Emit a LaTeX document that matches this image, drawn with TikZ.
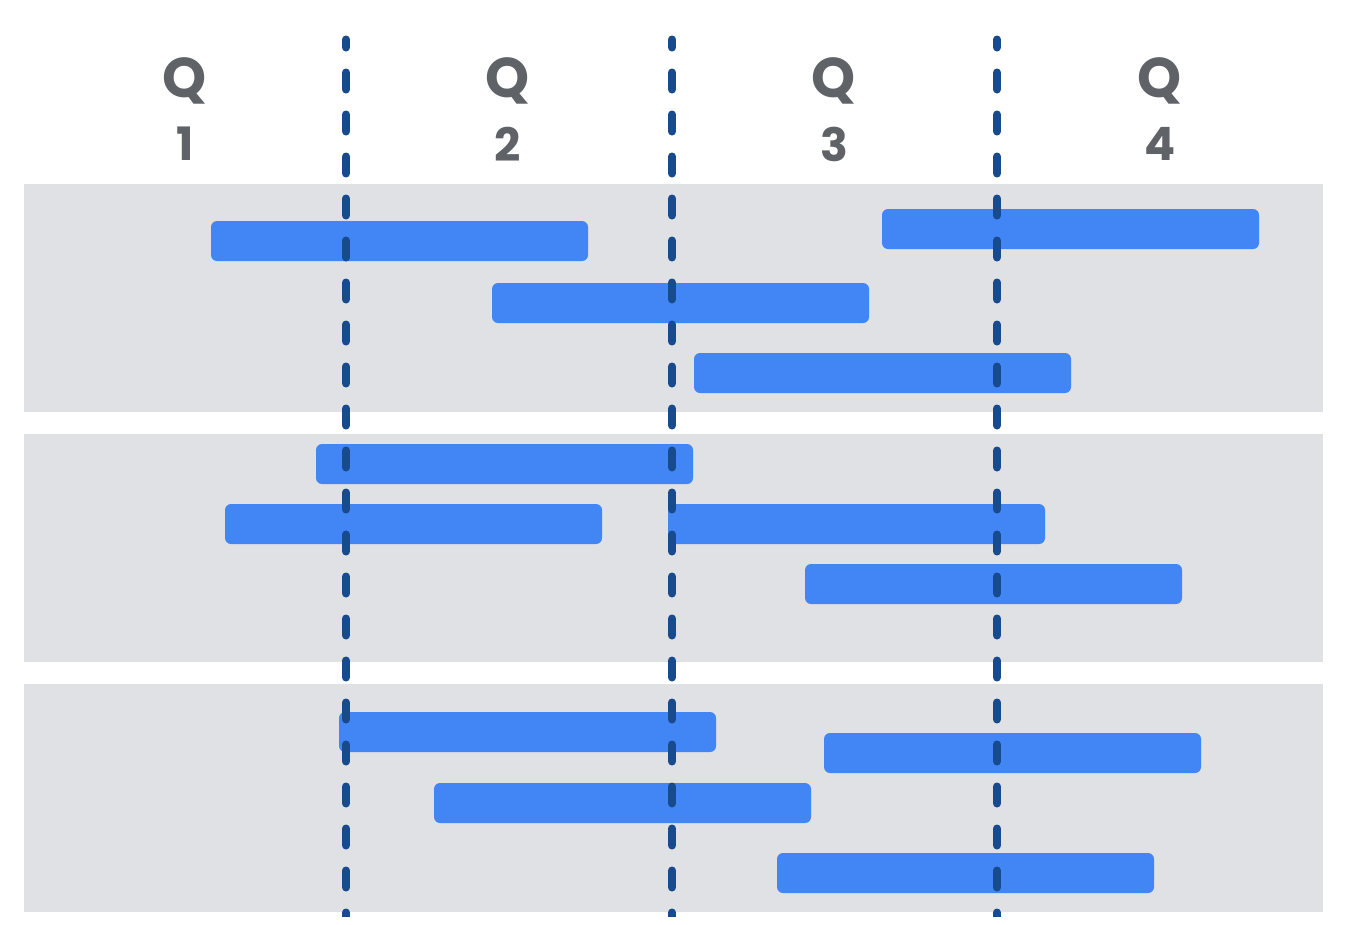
\documentclass[tikz,border=0pt]{standalone}
\usepackage{fontspec}
\setmainfont{Poppins}
\definecolor{barblue}{HTML}{4285F4}
\definecolor{banggray}{HTML}{E0E1E5}
\definecolor{dashblue}{HTML}{184A8E}
\definecolor{labgray}{HTML}{5F6368}
\begin{document}
\begin{tikzpicture}[x=1pt,y=-1pt,
  band/.style={fill=banggray,draw=none},
  bar/.style={fill=barblue,draw=none,rounded corners=6pt,anchor=north west,minimum height=40pt,minimum width=377pt,inner sep=0pt,outer sep=0pt},
  qline/.style={draw=dashblue,line width=8pt,line cap=round,dash pattern=on 17pt off 25pt,dash phase=9pt},
  qlab/.style={text=labgray,font=\bfseries\fontsize{56}{56}\selectfont,inner sep=0pt},
  nlab/.style={text=labgray,font=\bfseries\fontsize{46}{46}\selectfont,inner sep=0pt}]
\useasboundingbox (0,0) rectangle (1352,924);
\fill[white] (0,0) rectangle (1352,924);
% bands
\fill[band] (24,184) rectangle (1323,412);
\fill[band] (24,434) rectangle (1323,662);
\fill[band] (24,684) rectangle (1323,912);
% labels
\node[qlab] (q1) at (185,81) {Q};
\node[qlab] (q2) at (508,81) {Q};
\node[qlab] (q3) at (834,81) {Q};
\node[qlab] (q4) at (1160,81) {Q};
\node[nlab] (n1) at (185,144) {1};
\node[nlab] (n2) at (508,144) {2};
\node[nlab] (n3) at (834,144) {3};
\node[nlab] (n4) at (1160,144) {4};
% bars band 1
\node[bar] (b1) at (211,221) {};
\node[bar] (b2) at (882,209) {};
\node[bar] (b3) at (492,283) {};
\node[bar] (b4) at (694,353) {};
% bars band 2
\node[bar] (b5) at (316,444) {};
\node[bar] (b6) at (225,504) {};
\node[bar] (b7) at (668,504) {};
\node[bar] (b8) at (805,564) {};
% bars band 3
\node[bar] (b9) at (339,712) {};
\node[bar] (b10) at (824,733) {};
\node[bar] (b11) at (434,783) {};
\node[bar] (b12) at (777,853) {};
% dashed quarter lines
\coordinate (t1) at (346,39.5); \coordinate (e1) at (346,912);
\coordinate (t2) at (672,39.5); \coordinate (e2) at (672,912);
\coordinate (t3) at (997,39.5); \coordinate (e3) at (997,912);
\begin{scope}
\clip (0,0) rectangle (1352,916);
\draw[qline] (t1) -- ([yshift=-10pt]e1);
\draw[qline] (t2) -- ([yshift=-10pt]e2);
\draw[qline] (t3) -- ([yshift=-10pt]e3);
\end{scope}
\end{tikzpicture}
\end{document}
